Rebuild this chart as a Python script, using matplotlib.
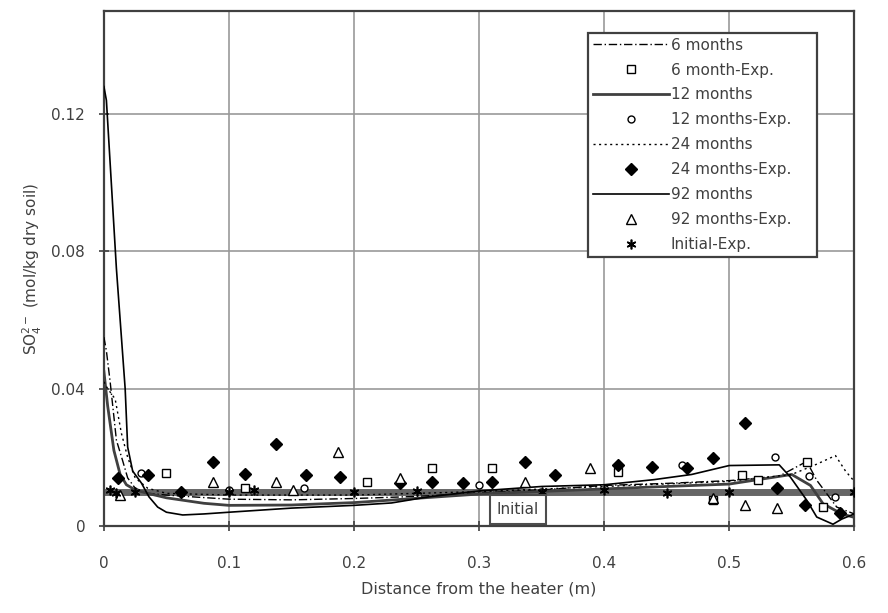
import numpy as np
import matplotlib
matplotlib.use("Agg")
import matplotlib.pyplot as plt

plt.rcParams['font.family'] = ['DejaVu Sans']
plt.rcParams['mathtext.fontset'] = 'dejavusans'

# %% model curves
x_6m = [0, 0.002, 0.005, 0.010, 0.015, 0.019, 0.025, 0.035, 0.05, 0.07, 0.10, 0.15, 0.20,
        0.25, 0.30, 0.35, 0.40, 0.45, 0.50, 0.54, 0.562, 0.570, 0.586, 0.60]
y_6m = [0.055, 0.051, 0.042, 0.025, 0.019, 0.014, 0.011, 0.0095, 0.009, 0.0085, 0.0078, 0.0076, 0.008,
        0.0086, 0.0096, 0.0105, 0.0118, 0.0124, 0.0132, 0.0145, 0.0188, 0.0133, 0.0055, 0.0035]

x_12m = [0, 0.003, 0.008, 0.013, 0.018, 0.025, 0.035, 0.05, 0.08, 0.10, 0.15, 0.20, 0.30,
         0.40, 0.50, 0.55, 0.565, 0.575, 0.59, 0.60]
y_12m = [0.045, 0.035, 0.022, 0.015, 0.012, 0.0105, 0.0095, 0.0082, 0.0066, 0.006, 0.0061, 0.0068, 0.0093,
         0.0108, 0.0122, 0.0150, 0.0118, 0.0065, 0.0035, 0.0025]

x_24m = [0, 0.003, 0.009, 0.014, 0.019, 0.025, 0.035, 0.05, 0.10, 0.20, 0.30, 0.40, 0.50,
         0.55, 0.57, 0.585, 0.593, 0.60]
y_24m = [0.042, 0.040, 0.037, 0.027, 0.020, 0.014, 0.011, 0.0095, 0.009, 0.009, 0.0100, 0.0115, 0.013,
         0.015, 0.018, 0.0205, 0.016, 0.013]

x_92m = [0, 0.002, 0.010, 0.017, 0.019, 0.023, 0.030, 0.036, 0.043, 0.050, 0.063, 0.080, 0.100,
         0.150, 0.200, 0.230, 0.260, 0.300, 0.350, 0.400, 0.440, 0.470, 0.500, 0.540, 0.549,
         0.562, 0.570, 0.583, 0.590, 0.600]
y_92m = [0.128, 0.124, 0.075, 0.040, 0.023, 0.016, 0.0125, 0.0085, 0.0055, 0.0040, 0.0032, 0.0035, 0.0040,
         0.0052, 0.0060, 0.0067, 0.0085, 0.0102, 0.0115, 0.0120, 0.0135, 0.0150, 0.0176, 0.0178, 0.0142,
         0.0075, 0.0026, 0.0005, 0.0020, 0.0035]

initial_x = [0, 0.6]
initial_y = [0.0100, 0.0100]

# %% experimental points
exp6_x = [0.050, 0.113, 0.210, 0.262, 0.310, 0.411, 0.487, 0.510, 0.523, 0.562, 0.575]
exp6_y = [0.0153, 0.0110, 0.0127, 0.0168, 0.0168, 0.0157, 0.0075, 0.0148, 0.0133, 0.0186, 0.0055]

exp12_x = [0.030, 0.100, 0.160, 0.300, 0.462, 0.537, 0.564, 0.585]
exp12_y = [0.0153, 0.0105, 0.0112, 0.0118, 0.0177, 0.0200, 0.0145, 0.0085]

exp24_x = [0.011, 0.035, 0.062, 0.087, 0.113, 0.138, 0.162, 0.189, 0.237, 0.262, 0.287, 0.310,
           0.337, 0.361, 0.411, 0.438, 0.466, 0.487, 0.513, 0.538, 0.561, 0.589]
exp24_y = [0.0139, 0.0148, 0.0099, 0.0186, 0.0151, 0.0240, 0.0148, 0.0142, 0.0125, 0.0128, 0.0125, 0.0128,
           0.0186, 0.0148, 0.0177, 0.0171, 0.0168, 0.0197, 0.0301, 0.0110, 0.0060, 0.0038]

exp92_x = [0.013, 0.087, 0.138, 0.151, 0.187, 0.237, 0.337, 0.389, 0.487, 0.513, 0.538]
exp92_y = [0.0090, 0.0128, 0.0128, 0.0104, 0.0215, 0.0140, 0.0128, 0.0168, 0.0080, 0.0061, 0.0052]

expini_x = [0.005, 0.010, 0.025, 0.100, 0.120, 0.200, 0.250, 0.350, 0.400, 0.450, 0.500, 0.600]
expini_y = [0.0105, 0.0095, 0.0100, 0.0100, 0.0105, 0.0100, 0.0103, 0.0098, 0.0105, 0.0095, 0.0100, 0.0100]

# %% plotting
fig = plt.figure(figsize=(8.88, 6.13), dpi=100)
ax = fig.add_axes([0.117, 0.142, 0.845, 0.840])

txt = '#404040'
fs = 11
ax.plot(initial_x, initial_y, color='0.4', lw=5, solid_capstyle='butt', zorder=2)

ax.plot(x_6m, y_6m, color='k', lw=1.0, ls=(0, (6, 2, 1, 2)), label='6 months', zorder=3)
ax.plot([], [], ls='none', marker='s', ms=6, mfc='white', mec='k', mew=1.0, label='6 month-Exp.')
ax.plot(x_12m, y_12m, color='0.25', lw=2.0, label='12 months', zorder=3)
ax.plot([], [], ls='none', marker='o', ms=5, mfc='white', mec='k', mew=1.0, label='12 months-Exp.')
ax.plot(x_24m, y_24m, color='k', lw=1.0, ls=(0, (1.5, 2.5)), label='24 months', zorder=3)
ax.plot([], [], ls='none', marker='D', ms=6, color='k', label='24 months-Exp.')
ax.plot(x_92m, y_92m, color='k', lw=1.2, label='92 months', zorder=3)
ax.plot([], [], ls='none', marker='^', ms=7, mfc='white', mec='k', mew=1.0, label='92 months-Exp.')
ax.plot([], [], ls='none', marker=(6, 2, 0), ms=7, color='k', mew=1.2, label='Initial-Exp.')

ax.plot(exp6_x, exp6_y, ls='none', marker='s', ms=6, mfc='white', mec='k', mew=1.0, zorder=4)
ax.plot(exp12_x, exp12_y, ls='none', marker='o', ms=5, mfc='white', mec='k', mew=1.0, zorder=4)
ax.plot(exp24_x, exp24_y, ls='none', marker='D', ms=6, color='k', zorder=4)
ax.plot(exp92_x, exp92_y, ls='none', marker='^', ms=7, mfc='white', mec='k', mew=1.0, zorder=4)
ax.plot(expini_x, expini_y, ls='none', marker=(6, 2, 0), ms=7, color='k', mew=1.2, zorder=4)

ax.text(0.331, 0.0049, 'Initial', ha='center', va='center', fontsize=fs, color=txt,
        bbox=dict(boxstyle='square,pad=0.45', fc='white', ec='0.3', lw=1.5), zorder=5)

ax.set_xlim(0, 0.6)
ax.set_ylim(0, 0.15)
ax.set_xticks([0, 0.1, 0.2, 0.3, 0.4, 0.5, 0.6])
ax.set_xticklabels(['0', '0.1', '0.2', '0.3', '0.4', '0.5', '0.6'])
ax.set_yticks([0, 0.04, 0.08, 0.12])
ax.set_yticklabels(['0', '0.04', '0.08', '0.12'])
ax.grid(True, color='0.6', lw=1.2)
ax.set_axisbelow(True)
for s in ax.spines.values():
    s.set_color('0.25')
    s.set_linewidth(1.6)
ax.tick_params(direction='inout', length=7, width=1.2, color='0.25', labelsize=fs,
               labelcolor=txt)
ax.tick_params(axis='x', pad=18)
ax.tick_params(axis='y', pad=10)

ax.set_xlabel('Distance from the heater (m)', fontsize=fs + 0.5, color=txt, labelpad=8)
ax.set_ylabel('SO$_4^{2-}$ (mol/kg dry soil)', fontsize=fs, color=txt, labelpad=5)

leg = ax.legend(loc='upper left', bbox_to_anchor=(588 / 888, 1 - 256 / 613, 229 / 888, 223 / 613),
                bbox_transform=fig.transFigure, borderaxespad=0, fontsize=fs, mode='expand',
                handlelength=5.0, labelspacing=0.65, handletextpad=0.1,
                fancybox=False, framealpha=1, edgecolor='0.25', borderpad=0.3)
leg.get_frame().set_linewidth(1.6)
for t in leg.get_texts():
    t.set_color(txt)

fig.savefig('out.png', dpi=100)
